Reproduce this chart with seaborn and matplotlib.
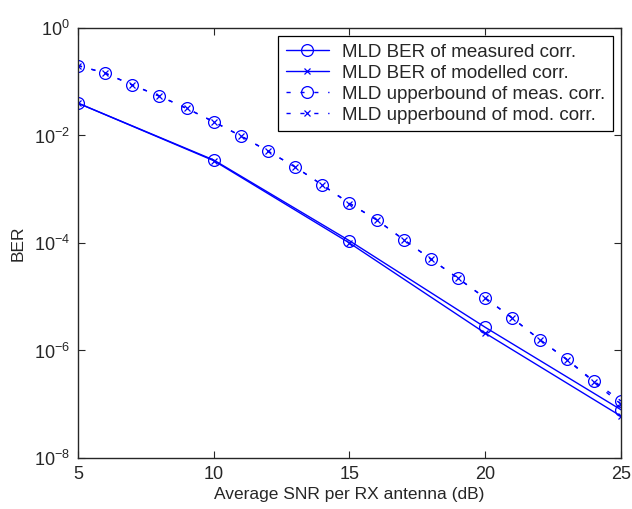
import numpy as np
import pandas as pd
import matplotlib
matplotlib.use("Agg")
import matplotlib.pyplot as plt
import seaborn as sns
from matplotlib.ticker import FixedLocator, NullLocator

sns.set_style("ticks")
plt.rcParams["font.family"] = ["Liberation Sans", "DejaVu Sans"]
plt.rcParams["mathtext.fontset"] = "custom"
plt.rcParams["mathtext.rm"] = "Liberation Sans"
plt.rcParams["mathtext.default"] = "regular"

# Data
snr_sim = [5, 10, 15, 20, 25]
ber_meas = [4.0e-2, 3.5e-3, 1.1e-4, 2.7e-6, 7.9e-8]
ber_mod = [4.0e-2, 3.4e-3, 1.0e-4, 2.1e-6, 6.0e-8]

snr_ub = list(range(5, 26))
ub_meas = [2.0e-1, 1.45e-1, 8.7e-2, 5.4e-2, 3.2e-2, 1.8e-2, 9.8e-3, 5.1e-3,
           2.6e-3, 1.2e-3, 5.5e-4, 2.7e-4, 1.15e-4, 5.0e-5, 2.2e-5, 9.5e-6,
           4.0e-6, 1.6e-6, 6.9e-7, 2.7e-7, 1.15e-7]
ub_mod = [2.0e-1, 1.45e-1, 8.7e-2, 5.4e-2, 3.2e-2, 1.8e-2, 9.8e-3, 5.1e-3,
          2.6e-3, 1.2e-3, 5.4e-4, 2.7e-4, 1.15e-4, 5.0e-5, 2.2e-5, 9.4e-6,
          4.0e-6, 1.6e-6, 6.8e-7, 2.6e-7, 1.0e-7]

labels = ["MLD BER of measured corr.", "MLD BER of modelled corr.",
          "MLD upperbound of meas. corr.", "MLD upperbound of mod. corr."]

fig = plt.figure(figsize=(6.32, 5.09), dpi=100)
ax = fig.add_axes([0.1234, 0.1002, 0.8592, 0.8448])

blue = "#0000ff"
dash = (0, (3, 7))
sns.lineplot(x=snr_sim, y=ber_meas, ax=ax, color=blue, lw=1, marker="o",
             markersize=8.5, markerfacecolor="none", markeredgecolor=blue,
             markeredgewidth=0.9, label=labels[0])
sns.lineplot(x=snr_sim, y=ber_mod, ax=ax, color=blue, lw=1, marker="x",
             markersize=5, markeredgecolor=blue, markeredgewidth=0.9,
             label=labels[1])
sns.lineplot(x=snr_ub, y=ub_meas, ax=ax, color=blue, lw=1, linestyle=dash,
             marker="o", markersize=8.5, markerfacecolor="none",
             markeredgecolor=blue, markeredgewidth=0.9, label=labels[2])
sns.lineplot(x=snr_ub, y=ub_mod, ax=ax, color=blue, lw=1, linestyle=dash,
             marker="x", markersize=5, markeredgecolor=blue,
             markeredgewidth=0.9, label=labels[3])

ax.set_yscale("log")
ax.set_xlim(5, 25)
ax.set_ylim(1e-8, 1e0)
ax.set_xticks([5, 10, 15, 20, 25])
ax.yaxis.set_major_locator(FixedLocator([1e-8, 1e-6, 1e-4, 1e-2, 1e0]))
ax.yaxis.set_minor_locator(NullLocator())
ax.set_yticklabels([r"$10^{-8}$", r"$10^{-6}$", r"$10^{-4}$", r"$10^{-2}$", r"$10^{0}$"])
ax.tick_params(direction="in", top=True, right=True, length=5, width=0.8,
               labelsize=13, pad=6)
for s in ax.spines.values():
    s.set_linewidth(1.0)
    s.set_visible(True)
ax.set_xlabel("Average SNR per RX antenna (dB)", fontsize=12.5, labelpad=3)
ax.set_ylabel("BER", fontsize=12.5, labelpad=6)

leg = ax.legend(loc="upper right", fontsize=13.5, frameon=True, fancybox=False,
                edgecolor="black", framealpha=1, borderaxespad=0.45,
                handlelength=2.3, handletextpad=0.7, labelspacing=0.2,
                borderpad=0.4)
leg.get_frame().set_linewidth(0.9)

fig.savefig("out.png", dpi=100)
